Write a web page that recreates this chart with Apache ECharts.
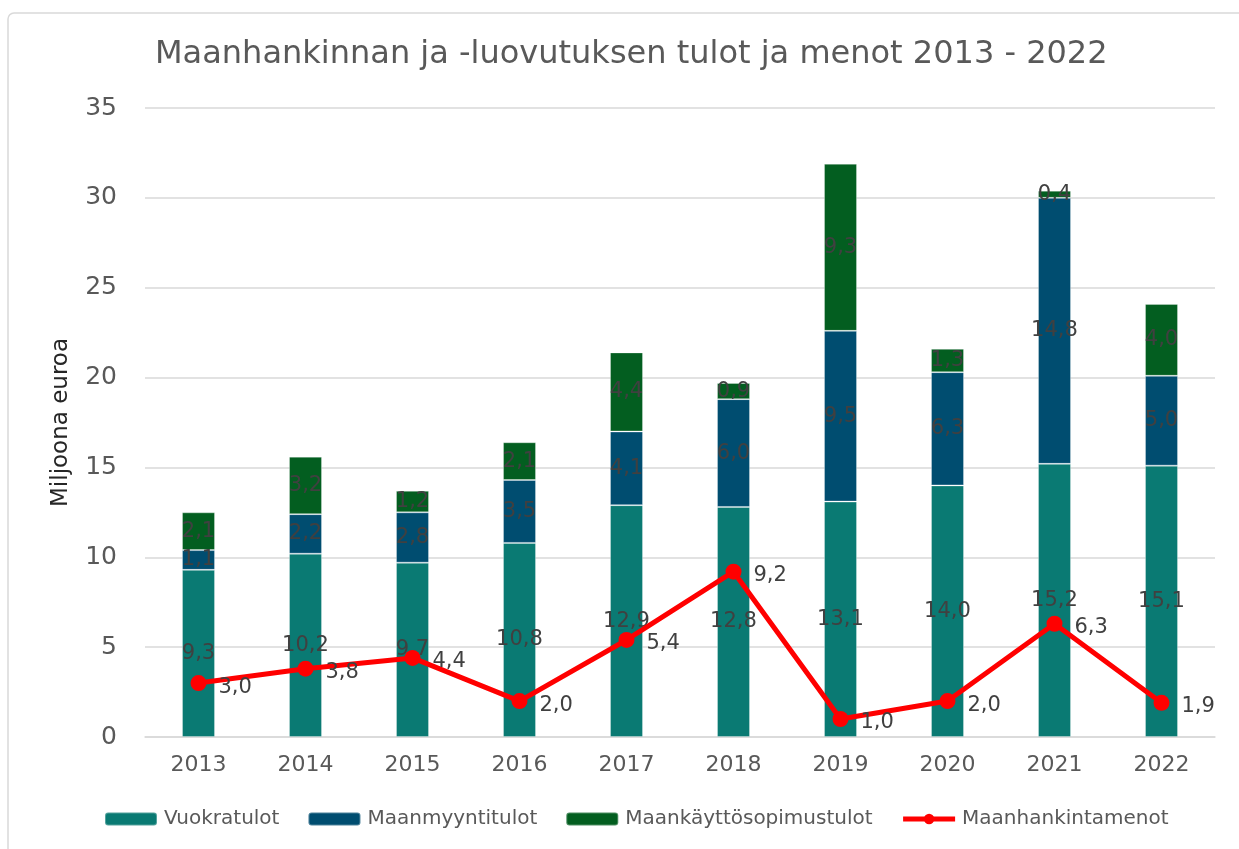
<!DOCTYPE html>
<html>
<head>
<meta charset="utf-8">
<script src="https://cdn.jsdelivr.net/npm/echarts@6/dist/echarts.min.js"></script>
<style>
  html, body { margin: 0; padding: 0; background: #fff; }
  #main { width: 1239px; height: 849px; }
</style>
</head>
<body>
<div id="main"></div>
<script>
// vuodet ja sarjat (milj. euroa)
var vuodet = ['2013', '2014', '2015', '2016', '2017', '2018', '2019', '2020', '2021', '2022'];
var vuokratulot = [9.3, 10.2, 9.7, 10.8, 12.9, 12.8, 13.1, 14.0, 15.2, 15.1];
var maanmyyntitulot = [1.1, 2.2, 2.8, 3.5, 4.1, 6.0, 9.5, 6.3, 14.8, 5.0];
var maankayttosopimustulot = [2.1, 3.2, 1.2, 2.1, 4.4, 0.9, 9.3, 1.3, 0.4, 4.0];
var maanhankintamenot = [3.0, 3.8, 4.4, 2.0, 5.4, 9.2, 1.0, 2.0, 6.3, 1.9];
var yTicks = [0, 5, 10, 15, 20, 25, 30, 35];

var FONT = '"DejaVu Sans", sans-serif';

// pilkku desimaalierottimena
function fi(v) {
  return Number(v).toFixed(1).replace('.', ',');
}

var chart = echarts.init(document.getElementById('main'), null, { renderer: 'canvas' });

var barLabel = {
  show: true,
  position: 'inside',
  color: '#404040',
  fontFamily: FONT,
  fontSize: 21,
  formatter: function (p) { return fi(p.value); }
};

function barSeries(name, data, color) {
  return {
    name: name,
    type: 'bar',
    stack: 'tulot',
    barWidth: 33,
    data: data,
    itemStyle: {
      color: color,
      borderColor: 'rgba(255,255,255,0.3)',
      borderWidth: 1
    },
    label: barLabel
  };
}

var option = {
  backgroundColor: '#fff',
  animation: false,
  textStyle: { fontFamily: FONT },
  graphic: [
    {
      type: 'rect',
      shape: { x: 8, y: 13, width: 1300, height: 900, r: 6 },
      style: { fill: 'none', stroke: '#d9d9d9', lineWidth: 1.5 },
      silent: true
    }
  ],
  title: {
    text: 'Maanhankinnan ja -luovutuksen tulot ja menot 2013 - 2022',
    left: 150,
    top: 34,
    textStyle: {
      fontFamily: FONT,
      fontSize: 32,
      fontWeight: 'normal',
      color: '#595959'
    }
  },
  legend: {
    bottom: 15,
    left: 99,
    itemWidth: 52,
    itemHeight: 13,
    itemGap: 28,
    textStyle: { fontFamily: FONT, fontSize: 20, color: '#595959', padding: [0, 0, 0, 2] },
    data: [
      'Vuokratulot',
      'Maanmyyntitulot',
      'Maankäyttösopimustulot',
      {
        name: 'Maanhankintamenot',
        lineStyle: { width: 5, color: '#ff0000' },
        itemStyle: { color: '#ff0000' }
      }
    ]
  },
  grid: {
    left: 145,
    right: 24,
    top: 108,
    bottom: 112
  },
  xAxis: {
    type: 'category',
    data: vuodet,
    axisTick: { show: false },
    axisLine: { lineStyle: { color: '#d9d9d9', width: 1.5 } },
    axisLabel: {
      color: '#595959',
      fontFamily: FONT,
      fontSize: 22,
      margin: 17
    }
  },
  yAxis: {
    type: 'value',
    min: yTicks[0],
    max: yTicks[yTicks.length - 1],
    interval: 5,
    name: 'Miljoona euroa',
    nameLocation: 'middle',
    nameGap: 72,
    nameTextStyle: { fontFamily: FONT, fontSize: 23, color: '#262626' },
    axisLine: { show: false },
    axisTick: { show: false },
    axisLabel: {
      color: '#595959',
      fontFamily: FONT,
      fontSize: 25,
      margin: 28
    },
    splitLine: { lineStyle: { color: '#d9d9d9', width: 1.5 } }
  },
  series: [
    barSeries('Vuokratulot', vuokratulot, '#0a7a73'),
    barSeries('Maanmyyntitulot', maanmyyntitulot, '#004d70'),
    barSeries('Maankäyttösopimustulot', maankayttosopimustulot, '#035e20'),
    {
      name: 'Maanhankintamenot',
      type: 'line',
      z: 5,
      data: maanhankintamenot,
      symbol: 'circle',
      symbolSize: 16,
      lineStyle: { color: '#ff0000', width: 5 },
      itemStyle: { color: '#ff0000' },
      label: {
        show: true,
        position: 'right',
        distance: 12,
        offset: [0, 4],
        color: '#404040',
        fontFamily: FONT,
        fontSize: 21,
        formatter: function (p) { return fi(p.value); }
      }
    }
  ]
};

chart.setOption(option);
</script>
</body>
</html>
